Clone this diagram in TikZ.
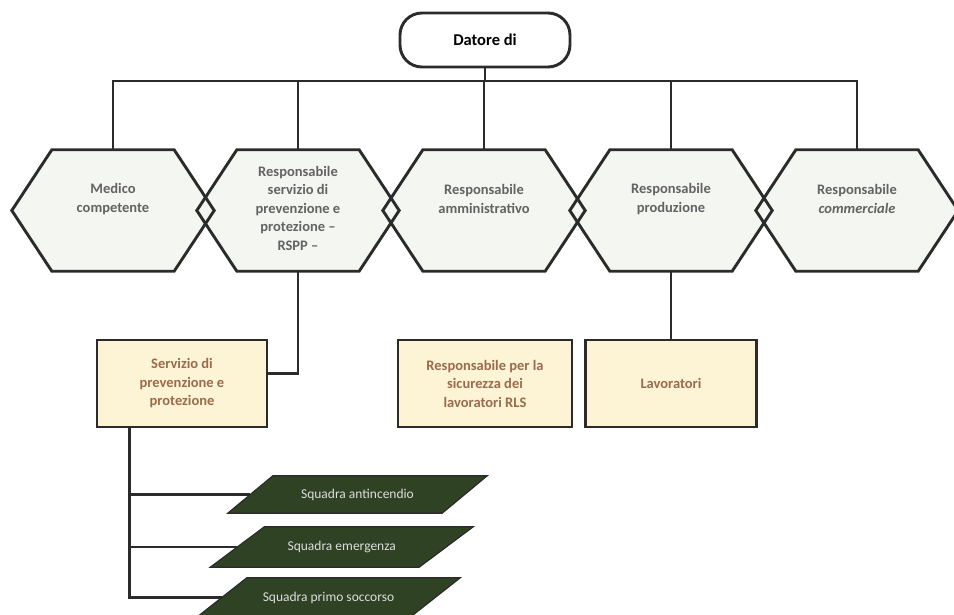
\documentclass[tikz,border=0pt]{standalone}
\usepackage{fontspec}
\setmainfont{Carlito}
\definecolor{lc}{HTML}{2B2B2B}
\definecolor{hexfill}{HTML}{F4F6F2}
\definecolor{hextxt}{HTML}{636363}
\definecolor{boxfill}{HTML}{FCF4D4}
\definecolor{boxtxt}{HTML}{9B6B4E}
\definecolor{pfill}{HTML}{2F4224}
\definecolor{ptxt}{HTML}{DDDDDD}
\begin{document}
\begin{tikzpicture}[x=1pt,y=-1pt,
  ln/.style={draw=lc, line width=2.9pt},
  topbox/.style={draw=lc, line width=2.9pt, fill=white, rounded corners=22pt,
    minimum width=170pt, minimum height=54pt, font=\fontsize{16.5}{19}\selectfont\bfseries},
  hexbox/.style={minimum width=122pt, minimum height=121pt, inner sep=0pt},
  hextext/.style={text=hextxt, font=\fontsize{14.5}{18.5}\selectfont\bfseries, align=center, inner sep=0pt},
  orgbox/.style={draw=lc, line width=2.9pt, fill=boxfill, minimum height=87pt, text=boxtxt,
    font=\fontsize{14.5}{18.5}\selectfont\bfseries, align=center},
  parbox/.style={minimum height=#1, inner sep=0pt, text=ptxt, font=\fontsize{13.5}{16}\selectfont},
]
\useasboundingbox (0,0) rectangle (954,615);

% hexagon frames (named nodes)
\node[hexbox] (h1) at (113,210.5) {};
\node[hexbox] (h2) at (298,210.5) {};
\node[hexbox] (h3) at (484,210.5) {};
\node[hexbox] (h4) at (671,210.5) {};
\node[hexbox] (h5) at (857,210.5) {};

\foreach \h in {h1,h2,h3,h4,h5}
  \fill[hexfill] (\h.north west) -- (\h.north east) -- ([xshift=40pt]\h.east) -- (\h.south east)
    -- (\h.south west) -- ([xshift=-40pt]\h.west) -- cycle;
\foreach \h in {h1,h2,h3,h4,h5}
  \draw[lc, line width=2.9pt, line join=miter] (\h.north west) -- (\h.north east) -- ([xshift=40pt]\h.east) -- (\h.south east)
    -- (\h.south west) -- ([xshift=-40pt]\h.west) -- cycle;

\node[hextext] (t1) at (113,199) {Medico\\competente};
\node[hextext] (t2) at (298,208) {Responsabile\\servizio di\\prevenzione e\\protezione –\\RSPP –};
\node[hextext] (t3) at (484,199) {Responsabile\\amministrativo};
\node[hextext] (t4) at (671,199) {Responsabile\\produzione};
\node[hextext] (t5) at (857,199) {Responsabile\\\textit{commerciale}};

% top node
\node[topbox] (top) at (485,40) {Datore di};
\coordinate (bus) at (485,81);

\draw[ln] (top.south) -- (bus);
\draw[ln] (h1.north) |- (h4.north |- bus);
\draw[lc, line width=1.9pt] (h4.north |- bus) -| (h5.north);
\draw[ln] (h2.north |- bus) -- (h2.north);
\draw[ln] (h3.north |- bus) -- (h3.north);
\draw[ln] (h4.north |- bus) -- (h4.north);

% boxes
\node[orgbox, minimum width=170pt] (s) at (182,383.5) {Servizio di\\prevenzione e\\protezione};
\node[orgbox, minimum width=174pt] (r) at (485,383.5) {Responsabile per la\\sicurezza dei\\lavoratori RLS};
\node[orgbox, minimum width=171pt] (l) at (671,383.5) {Lavoratori};

\draw[ln] (h2.south) |- ([yshift=10pt]s.east);
\draw[ln] (h4.south) -- (l.north);

% squads
\node[parbox=37pt, minimum width=214pt] (p1) at (357.5,494.5) {};
\node[parbox=40pt, minimum width=208.5pt] (p2) at (341.75,547) {};
\node[parbox=39pt, minimum width=213pt] (p3) at (328.5,597.5) {};

\coordinate (trunk) at ([xshift=34pt]s.south west);
\draw[ln] (trunk) |- (p3.west);
\draw[ln] (trunk |- p1.west) -- (p1.west);
\draw[ln] (trunk |- p2.west) -- (p2.west);

\foreach \p/\s in {p1/45pt,p2/54pt,p3/50pt}
  \filldraw[fill=pfill, draw=lc, line width=1.2pt]
    ([xshift=\s/2]\p.north west) -- ([xshift=\s/2]\p.north east)
    -- ([xshift=-\s/2]\p.south east) -- ([xshift=-\s/2]\p.south west) -- cycle;
\node[parbox=37pt] (q1) at (p1) {Squadra antincendio};
\node[parbox=40pt] (q2) at (p2) {Squadra emergenza};
\node[parbox=39pt] (q3) at (p3) {Squadra primo soccorso};
\end{tikzpicture}
\end{document}
